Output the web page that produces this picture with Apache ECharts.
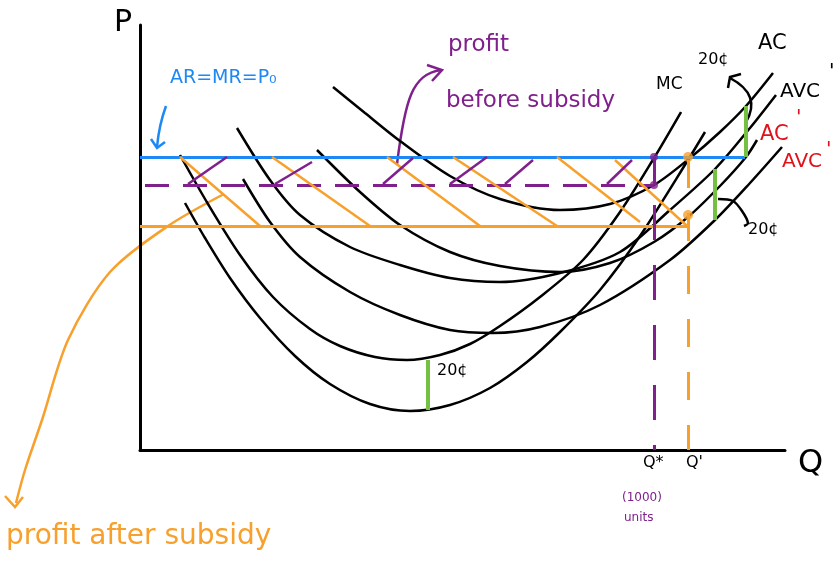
<!DOCTYPE html>
<html>
<head>
<meta charset="utf-8">
<script src="https://cdn.jsdelivr.net/npm/echarts@6/dist/echarts.min.js"></script>
<style>
  html, body { margin: 0; padding: 0; background: #fff; }
  #chart { width: 835px; height: 571px; }
</style>
</head>
<body>
<div id="chart"></div>
<script>
// cost curves, [Q, P] in chart units (Q 0..645, P 0..425)
const acCurve = [[193,363],[225,337],[260,309],[310,274],[360,251],[420,240],[470,246],[514,265],[550,292],[580,318],[606,344],[633,377]];
const acSubCurve = [[177,300],[220,258],[260,225],[310,198],[360,184],[420,178],[470,187],[514,208],[548,233],[580,264],[606,293],[617,310]];
const avcCurve = [[97,322],[130,270],[160,235],[210,203],[260,185],[310,172],[360,168],[420,177],[480,198],[530,240],[575,281],[610,322],[636,355]];
const avcSubCurve = [[103,271],[130,228],[160,193],[210,158],[260,135],[310,120],[353,117],[400,123],[460,145],[530,190],[575,230],[610,267],[642,303]];
const mcCurve = [[40,295],[68,246],[100,195],[133,153],[170,121],[200,104],[235,93],[267,90],[300,95],[330,106],[360,124],[400,153],[443,190],[480,238],[514,292],[541,338]];
const mcSubCurve = [[45,247],[65,212],[90,172],[120,132],[155,94],[190,66],[230,46],[270,39],[310,45],[350,62],[387,88],[420,118],[460,160],[500,214],[548,290],[565,318]];

// levels
const priceP0 = 293;        // AR = MR = P0
const acAtQStar = 265;
const acSubAtQPrime = 224;
const qStar = 514;
const qPrime = 548;
const priceLineEnd = 605;

// hatching segments
const orangeHatch = [
  [[40,293],[120,224]], [[132,293],[230,224]], [[247,293],[340,224]],
  [[313,293],[417,224]], [[417,293],[500,228]], [[475,290],[547,224]]
];
const purpleHatch = [
  [[48,266],[87,293]], [[135,266],[172,288]], [[243,266],[273,292]],
  [[310,266],[347,293]], [[365,266],[393,290]], [[467,266],[492,290]]
];
// 20 cent subsidy gaps
const subsidyBars = [
  [[288,90],[288,40]], [[575,281],[575,230]], [[606,344],[606,293]]
];

const chart = echarts.init(document.getElementById('chart'));

const BLACK = '#000';
const BLUE = '#1e88f5';
const PURPLE = '#80208c';
const ORANGE = '#f7a02c';
const GREEN = '#74c043';
const RED = '#e0121b';
const FONT = '"DejaVu Sans", sans-serif';

const curve = (data) => ({
  type: 'line', data, smooth: 0.3, symbol: 'none', silent: true,
  lineStyle: { color: BLACK, width: 2.5 }, z: 3
});
const segs = (list, color, width, type) => ({
  type: 'lines', coordinateSystem: 'cartesian2d', silent: true,
  data: list.map(c => ({ coords: c })),
  lineStyle: { color, width, type: type || 'solid', opacity: 1 }, z: 4
});
const txt = (x, y, text, color, size) => ({
  type: 'text', x, y, silent: true,
  style: { text, fill: color, fontSize: size, fontFamily: FONT }
});

const option = {
  animation: false,
  grid: { left: 140, top: 25, width: 645, height: 425 },
  xAxis: {
    type: 'value', min: 0, max: 645,
    axisLine: { lineStyle: { color: BLACK, width: 3 } },
    axisTick: { show: false }, axisLabel: { show: false }, splitLine: { show: false }
  },
  yAxis: {
    type: 'value', min: 0, max: 425,
    axisLine: { lineStyle: { color: BLACK, width: 3 } },
    axisTick: { show: false }, axisLabel: { show: false }, splitLine: { show: false }
  },
  series: [
    curve(acCurve), curve(acSubCurve), curve(avcCurve),
    curve(avcSubCurve), curve(mcCurve), curve(mcSubCurve),
    segs([[[0, priceP0], [priceLineEnd, priceP0]]], BLUE, 3),
    segs([[[5, acAtQStar], [qStar, acAtQStar]]], PURPLE, 3, [24, 14]),
    segs([[[0, acSubAtQPrime], [qPrime - 1, acSubAtQPrime]]], ORANGE, 3),
    segs([[[qStar, priceP0], [qStar, acAtQStar]]], PURPLE, 3),
    segs([[[qStar, acAtQStar - 20], [qStar, 0]]], PURPLE, 3, [35, 25]),
    segs([[[qPrime, priceP0 - 3], [qPrime, 0]]], ORANGE, 3, [28, 25]),
    segs(orangeHatch, ORANGE, 2.5),
    segs(purpleHatch, PURPLE, 2.5),
    segs(subsidyBars, GREEN, 4),
    {
      type: 'scatter', symbolSize: 8, silent: true, z: 5,
      data: [[qStar, priceP0], [qStar, acAtQStar]],
      itemStyle: { color: PURPLE }
    },
    {
      type: 'scatter', symbolSize: 10, silent: true, z: 5,
      data: [[qPrime, priceP0], [qPrime, 235]],
      itemStyle: { color: ORANGE }
    }
  ],
  graphic: [
    txt(114, 8, 'P', BLACK, 30),
    txt(170, 69, 'AR=MR=P₀', BLUE, 19),
    txt(448, 34, 'profit', PURPLE, 23),
    txt(446, 90, 'before subsidy', PURPLE, 23),
    txt(656, 76, 'MC', BLACK, 17),
    txt(698, 52, '20¢', BLACK, 16),
    txt(758, 33, 'AC', BLACK, 21),
    txt(780, 82, 'AVC', BLACK, 20),
    txt(829, 62, '\'', BLACK, 20),
    txt(760, 124, 'AC', RED, 21),
    txt(796, 108, '\'', RED, 20),
    txt(782, 152, 'AVC', RED, 20),
    txt(826, 140, '\'', RED, 20),
    txt(748, 222, '20¢', BLACK, 16),
    txt(437, 363, '20¢', BLACK, 16),
    txt(643, 455, 'Q*', BLACK, 16),
    txt(686, 455, 'Q\'', BLACK, 16),
    txt(798, 448, 'Q', BLACK, 32),
    txt(622, 492, '(1000)', PURPLE, 12),
    txt(624, 512, 'units', PURPLE, 12),
    txt(6, 523, 'profit after subsidy', ORANGE, 28),
    // blue arrow
    { type: 'bezierCurve', silent: true,
      shape: { x1: 166, y1: 106, cpx1: 159, cpy1: 125, x2: 157, y2: 147 },
      style: { stroke: BLUE, lineWidth: 2.5, fill: null } },
    { type: 'polyline', silent: true,
      shape: { points: [[151, 139], [157, 148], [165, 142]] },
      style: { stroke: BLUE, lineWidth: 2.5, fill: null } },
    // purple arrow
    { type: 'bezierCurve', silent: true,
      shape: { x1: 397, y1: 164, cpx1: 405, cpy1: 100, cpx2: 412, cpy2: 74, x2: 441, y2: 70 },
      style: { stroke: PURPLE, lineWidth: 2.5, fill: null } },
    { type: 'polyline', silent: true,
      shape: { points: [[427, 65], [442, 70], [432, 81]] },
      style: { stroke: PURPLE, lineWidth: 2.5, fill: null } },
    // orange arrow
    { type: 'polyline', silent: true,
      shape: { points: [[224, 194], [168, 226], [110, 272], [68, 340], [42, 420], [25, 470], [16, 503]], smooth: 0.3 },
      style: { stroke: ORANGE, lineWidth: 2.5, fill: null } },
    { type: 'polyline', silent: true,
      shape: { points: [[5, 496], [15, 507], [23, 497]] },
      style: { stroke: ORANGE, lineWidth: 2.5, fill: null } },
    // 20c arrow near AC
    { type: 'bezierCurve', silent: true,
      shape: { x1: 746, y1: 122, cpx1: 762, cpy1: 95, x2: 730, y2: 78 },
      style: { stroke: BLACK, lineWidth: 2.5, fill: null } },
    { type: 'polyline', silent: true,
      shape: { points: [[728, 88], [730, 77], [741, 74]] },
      style: { stroke: BLACK, lineWidth: 2.5, fill: null } },
    // 20c hook near AVC
    { type: 'polyline', silent: true,
      shape: { points: [[718, 199], [733, 201], [742, 211], [748, 223], [744, 226]], smooth: 0.3 },
      style: { stroke: BLACK, lineWidth: 2.5, fill: null } }
  ]
};

chart.setOption(option);
</script>
</body>
</html>
